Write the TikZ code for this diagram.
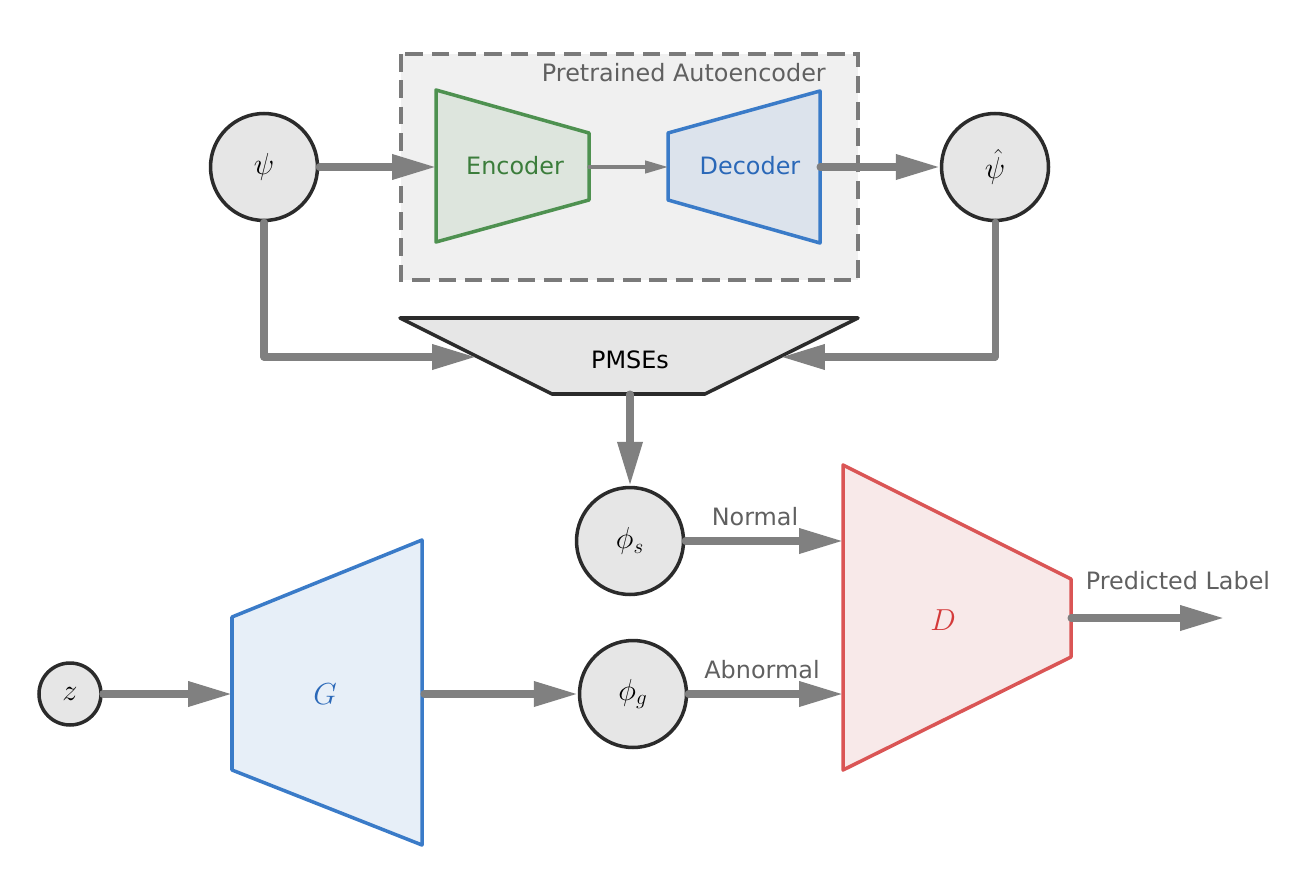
\documentclass[tikz,border=0pt]{standalone}
\usepackage{fontspec}
\setmainfont{DejaVu Sans}
\usetikzlibrary{arrows.meta}
\definecolor{arrgray}{HTML}{808080}
\definecolor{darkline}{HTML}{2B2B2B}
\definecolor{circfill}{HTML}{E6E6E6}
\definecolor{boxfill}{HTML}{F0F0F0}
\definecolor{boxdash}{HTML}{7A7A7A}
\definecolor{encline}{HTML}{4E9150}
\definecolor{encfill}{HTML}{DDE5DD}
\definecolor{enctext}{HTML}{3B7D3B}
\definecolor{decline}{HTML}{3A7BC8}
\definecolor{decfill}{HTML}{DCE3EC}
\definecolor{dectext}{HTML}{2A68B8}
\definecolor{genfill}{HTML}{E7EFF8}
\definecolor{disline}{HTML}{DA5555}
\definecolor{disfill}{HTML}{F8E9E9}
\definecolor{distext}{HTML}{D43A3A}
\definecolor{labgray}{HTML}{606060}
\tikzset{
  bigarrow/.style={draw=arrgray, line width=4pt, line cap=round, line join=round,
    -{Triangle[length=25pt,width=13.6pt]}},
  smallarrow/.style={draw=arrgray, line width=1.8pt, line cap=round,
    -{Triangle[length=13pt,width=7pt]}},
  circ/.style={circle, draw=darkline, fill=circfill, line width=2pt, inner sep=0pt,
    minimum size=2.14cm, font=\fontsize{18}{21}\selectfont},
  smallcirc/.style={circ, minimum size=1.24cm},
  shapeline/.style={line width=2pt, line join=round},
  txt/.style={font=\fontsize{13.6}{16}\selectfont},
  lab/.style={txt, text=labgray},
  mathlab/.style={font=\fontsize{18}{21}\selectfont}
}
\begin{document}
\begin{tikzpicture}[x=0.02cm,y=-0.02cm]
\useasboundingbox (0,0) rectangle (1293,878);
% pretrained autoencoder box
\draw[boxdash, fill=boxfill, line width=2pt, dash pattern=on 10pt off 5pt] (401,54) rectangle (858,280);
\node[lab, anchor=east] (pretrained) at (832,73) {Pretrained Autoencoder};
% encoder
\coordinate (e1) at (436,90); \coordinate (e2) at (589,133);
\coordinate (e3) at (589,200); \coordinate (e4) at (436,242);
\draw[shapeline, encline, fill=encfill] (e1) -- (e2) -- (e3) -- (e4) -- cycle;
\node[txt, text=enctext] (enc) at (515,166) {Encoder};
\coordinate (encin) at (436,167); \coordinate (encout) at (589,167);
% decoder
\coordinate (d1) at (668,133); \coordinate (d2) at (820,91);
\coordinate (d3) at (820,243); \coordinate (d4) at (668,200);
\draw[shapeline, decline, fill=decfill] (d1) -- (d2) -- (d3) -- (d4) -- cycle;
\node[txt, text=dectext] (dec) at (750,166) {Decoder};
\coordinate (decin) at (668,167); \coordinate (decout) at (820,167);
% circles
\node[circ] (psi) at (264,167) {$\psi$};
\node[circ] (psihat) at (995,167) {$\hat{\psi}$};
\node[circ] (phis) at (630,541) {$\phi_s$};
\node[circ] (phig) at (633,694) {$\phi_g$};
\node[smallcirc] (z) at (70,694) {$z$};
% PMSEs
\coordinate (p1) at (400,318); \coordinate (p2) at (858,318);
\coordinate (p3) at (705,394); \coordinate (p4) at (552,394);
\draw[shapeline, darkline, fill=circfill] (p1) -- (p2) -- (p3) -- (p4) -- cycle;
\node[txt, text=black] (pmse) at (630,360) {PMSEs};
\coordinate (pin1) at (476,357); \coordinate (pin2) at (781,357);
\coordinate (pout) at (630,394);
\coordinate (c1) at (264,357); \coordinate (c2) at (995,357);
% G
\coordinate (g1) at (232,617); \coordinate (g2) at (422,540);
\coordinate (g3) at (422,845); \coordinate (g4) at (232,770);
\draw[shapeline, decline, fill=genfill] (g1) -- (g2) -- (g3) -- (g4) -- cycle;
\node[mathlab, text=dectext] (G) at (325,694) {$G$};
\coordinate (gin) at (232,694); \coordinate (gout) at (424,694);
% D
\coordinate (dd1) at (843,465); \coordinate (dd2) at (1071,579);
\coordinate (dd3) at (1071,657); \coordinate (dd4) at (843,770);
\draw[shapeline, disline, fill=disfill] (dd1) -- (dd2) -- (dd3) -- (dd4) -- cycle;
\node[mathlab, text=distext] (D) at (943,620) {$D$};
\coordinate (din1) at (843,541); \coordinate (din2) at (843,694);
\coordinate (dout) at (1071,618); \coordinate (final) at (1224,618);
% connectors
\draw[bigarrow] (psi.east) -- (encin);
\draw[smallarrow] (encout) -- (decin);
\draw[bigarrow] (decout) -- (psihat.west);
\draw[bigarrow] (psi.south) -- (c1) -- (pin1);
\draw[bigarrow] (psihat.south) -- (c2) -- (pin2);
\draw[bigarrow] (pout) -- (phis.north);
\draw[bigarrow] (z.east) -- (gin);
\draw[bigarrow] (gout) -- (phig.west);
\draw[bigarrow] (phis.east) -- (din1);
\draw[bigarrow] (phig.east) -- (din2);
\draw[bigarrow] (dout) -- (final);
% labels
\node[lab] (normal) at (755,517) {Normal};
\node[lab] (abnormal) at (762,670) {Abnormal};
\node[lab] (predicted) at (1178,581) {Predicted Label};
\end{tikzpicture}
\end{document}
